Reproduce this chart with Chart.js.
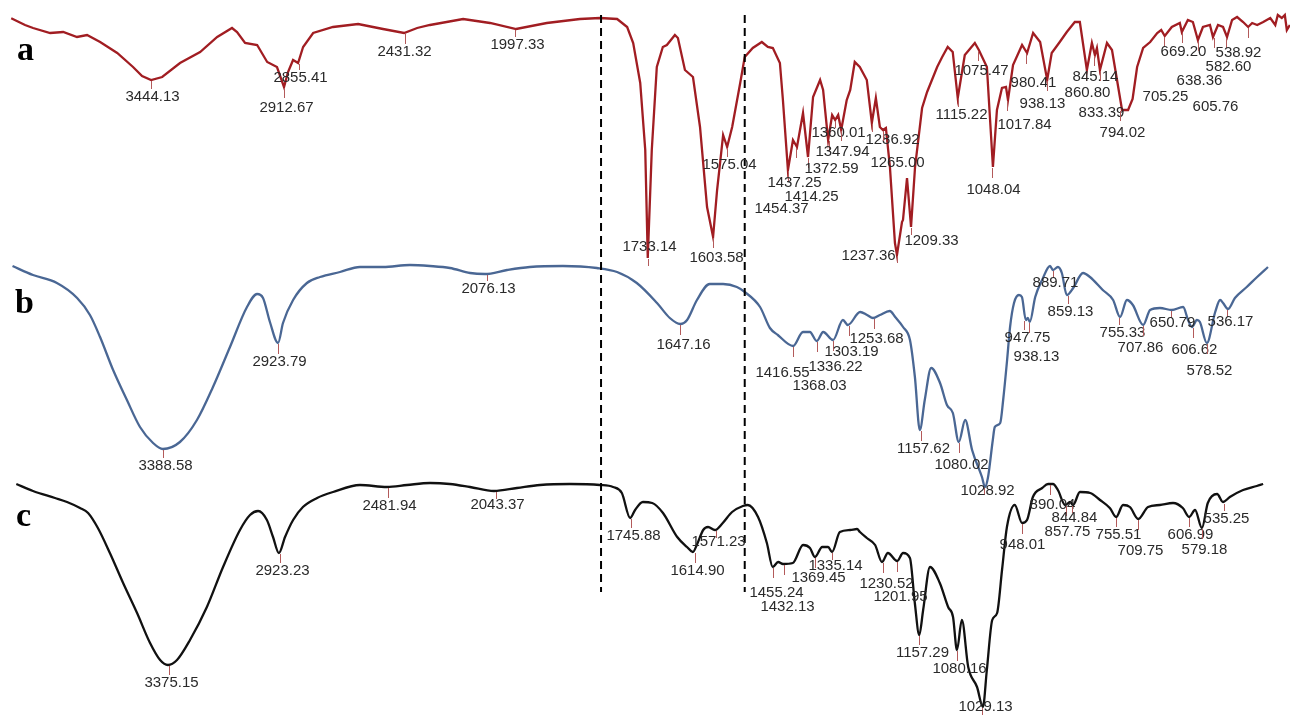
<!DOCTYPE html>
<html><head><meta charset="utf-8">
<script src="https://cdn.jsdelivr.net/npm/chart.js@4.4.1/dist/chart.umd.min.js"></script>
<style>html,body{margin:0;padding:0;background:#fff;overflow:hidden}#wrap{width:1290px;height:716px}</style>
</head><body><div id="wrap"><canvas id="cv" width="1290" height="716"></canvas></div>
<script>
// ---------- data (wavenumber cm-1, transmittance %T) ----------
const aSpectrum = [[4000,99.1],[3945,96.4],[3913,95.2],[3845,93.2],[3793,93.6],[3738,91.6],[3698,92.4],[3646,89.6],[3578,85.2],[3515,79.6],[3479,76.0],[3443,74.4],[3399,75.6],[3328,81.2],[3248,85.6],[3180,91.6],[3121,95.2],[3101,93.6],[3069,89.2],[3021,88.4],[2981,81.6],[2942,79.6],[2914,71.6],[2898,77.6],[2878,82.4],[2858,81.2],[2838,87.6],[2798,93.2],[2719,95.6],[2619,96.8],[2520,94.8],[2436,93.2],[2384,95.2],[2333,96.4],[2201,98.8],[2094,97.2],[1995,94.8],[1934,97.2],[1868,98.8],[1828,99.2],[1794,98.8],[1774,95.6],[1762,89.2],[1748,73.2],[1738,46.4],[1733,3.2],[1725,46.4],[1715,79.6],[1703,87.6],[1695,88.4],[1679,92.4],[1673,91.2],[1659,78.4],[1643,75.6],[1629,55.6],[1615,23.6],[1603,11.6],[1595,30.4],[1583,52.4],[1575,47.6],[1565,55.6],[1549,73.2],[1540,83.6],[1524,87.2],[1506,89.6],[1494,87.6],[1484,87.2],[1470,81.2],[1464,66.4],[1454,38.4],[1444,50.4],[1436,47.6],[1424,61.2],[1414,43.6],[1404,67.6],[1390,74.4],[1384,70.4],[1374,50.4],[1366,60.4],[1360,58.4],[1354,60.4],[1348,54.4],[1337,66.4],[1330,70.4],[1321,81.6],[1311,79.6],[1297,74.4],[1287,57.2],[1279,67.2],[1271,55.6],[1265,54.4],[1259,55.2],[1251,39.6],[1241,9.2],[1237,4.4],[1227,17.6],[1225,18.4],[1217,35.2],[1209,15.6],[1201,39.6],[1187,63.2],[1177,69.6],[1157,79.6],[1147,83.6],[1136,87.6],[1126,85.6],[1116,67.2],[1102,84.4],[1082,89.2],[1074,86.4],[1058,79.6],[1046,39.6],[1038,62.4],[1028,71.2],[1020,71.6],[1016,66.4],[1006,80.4],[988,88.4],[978,85.2],[966,93.2],[952,89.6],[938,74.4],[929,85.2],[913,89.6],[899,93.6],[883,97.6],[873,97.6],[859,78.4],[849,89.2],[843,84.4],[839,87.2],[833,78.4],[819,89.2],[809,86.4],[789,62.4],[777,62.4],[768,66.8],[759,79.6],[747,87.2],[733,89.6],[719,93.2],[711,94.4],[704,92.0],[690,95.6],[674,97.2],[670,93.6],[658,98.4],[648,97.6],[638,90.4],[628,95.6],[614,96.4],[608,91.6],[598,96.4],[588,95.6],[580,91.6],[570,98.4],[560,99.6],[548,97.6],[538,95.6],[530,97.2],[520,96.4],[508,97.6],[494,99.2],[484,96.4],[479,100.4],[471,99.2],[465,100.4],[461,94.4],[455,96.4]];
const aWavenumber = aSpectrum.map(p=>p[0]);
const aTransmittance = aSpectrum.map(p=>p[1]);

const bWavenumber = [4000,3917,3820,3738,3686,3645,3592,3536,3483,3430,3390,3321,3252,3187,3118,3049,3008,2984,2956,2923,2903,2862,2806,2753,2672,2591,2497,2388,2307,2226,2144,2084,1997,1951,1884,1815,1774,1734,1693,1667,1646,1632,1612,1586,1559,1531,1515,1484,1464,1448,1417,1397,1383,1369,1356,1336,1316,1306,1281,1267,1255,1241,1221,1210,1194,1180,1170,1160,1150,1137,1119,1105,1093,1081,1068,1054,1034,1028,1022,1012,1008,997,991,983,977,969,959,953,945,941,937,926,912,896,890,880,872,862,849,829,815,789,768,754,740,728,707,693,673,649,626,616,608,598,592,578,561,551,545,535,521,497,476,454];
const bTransmittance = [90.0,86.4,83.2,77.2,70.4,61.6,48.4,36.4,25.6,19.2,16.8,19.6,28.4,41.6,57.6,73.6,78.8,77.2,67.6,59.2,67.2,76.4,83.2,85.6,87.6,89.6,89.6,90.4,90.0,89.2,87.2,86.8,88.4,89.6,90.0,89.2,87.6,83.2,75.2,69.2,66.8,68.4,76.4,82.8,82.8,81.6,79.6,73.6,65.2,62.4,58.0,63.6,63.6,60.0,63.6,60.4,68.4,66.4,71.6,70.4,69.2,70.4,72.0,69.6,65.6,60.4,45.6,24.4,36.4,49.2,43.2,34.4,31.2,19.6,28.4,16.4,5.6,1.6,5.2,20.4,25.6,27.2,36.4,52.4,65.6,75.2,78.4,77.6,68.4,69.2,67.6,77.6,84.4,90.0,88.4,89.6,87.2,78.4,81.2,87.2,85.6,80.4,76.4,69.6,76.4,74.4,66.4,72.4,73.2,72.4,73.6,68.4,65.6,68.4,67.6,59.2,71.6,76.4,75.2,72.8,77.2,81.6,85.6,89.6];

const cWavenumber = [4000,3932,3842,3793,3740,3707,3667,3618,3564,3507,3454,3413,3381,3344,3291,3222,3156,3087,3046,3013,2977,2952,2928,2903,2870,2830,2772,2707,2597,2487,2405,2311,2230,2148,2050,1978,1931,1870,1809,1782,1764,1747,1737,1721,1702,1680,1651,1631,1619,1611,1598,1588,1574,1558,1539,1517,1507,1486,1468,1456,1445,1435,1415,1394,1380,1370,1355,1343,1335,1319,1298,1284,1278,1264,1247,1233,1221,1202,1190,1176,1166,1157,1149,1135,1115,1098,1088,1080,1070,1057,1039,1027,1019,1008,998,988,978,962,947,937,925,906,894,884,874,859,849,843,829,808,788,768,755,741,727,710,690,666,639,619,606,594,580,568,549,537,523,496,468,455];
const cTransmittance = [92.8,90.0,87.2,85.6,83.2,81.2,75.2,65.2,53.2,41.2,29.2,22.4,20.4,22.4,30.4,43.6,59.6,74.4,80.4,82.0,78.4,71.6,65.2,71.6,78.4,83.6,87.2,89.6,92.4,91.6,92.4,93.2,92.8,91.6,90.0,91.2,92.4,92.8,92.4,91.6,89.2,79.2,82.4,85.6,85.2,81.2,71.6,67.6,65.6,68.4,74.4,75.6,74.4,77.2,81.6,84.0,84.4,79.6,69.2,59.6,61.6,60.8,61.2,68.4,67.2,63.6,67.6,67.6,65.6,73.6,74.4,74.8,73.6,71.2,68.4,61.6,65.2,62.0,65.2,63.2,45.2,32.4,42.4,59.6,53.2,43.6,39.6,26.4,38.4,19.6,11.6,3.6,18.4,38.4,41.2,58.4,75.6,84.4,77.2,78.4,87.6,91.2,92.8,92.8,90.4,84.4,85.6,84.4,89.6,89.2,86.4,83.2,79.6,84.4,83.6,78.8,83.6,84.4,85.2,83.2,79.6,82.4,75.2,85.2,88.8,85.6,87.6,90.4,92.0,92.8];

// peak labels (wavenumber text) and the %T of the curve at each peak
const aPeaks = ["3444.13","2912.67","2855.41","2431.32","1997.33","1733.14","1603.58","1575.04","1454.37","1437.25","1414.25","1372.59","1360.01","1347.94","1286.92","1265.00","1237.36","1209.33","1115.22","1075.47","1048.04","1017.84","980.41","938.13","860.80","845.14","833.39","794.02","705.25","669.20","638.36","605.76","582.60","538.92"];
const aPeakT = [74.4,71.6,81.2,93.2,94.8,3.2,11.6,47.6,38.4,47.6,43.6,50.4,58.4,54.4,57.2,54.4,4.4,15.6,67.2,86.4,39.6,66.4,85.2,74.4,78.4,84.4,78.4,62.4,92.0,93.6,90.4,91.6,91.6,95.6];
const bPeaks = ["3388.58","2923.79","2076.13","1647.16","1416.55","1368.03","1336.22","1303.19","1253.68","1157.62","1080.02","1028.92","947.75","938.13","889.71","859.13","755.33","707.86","650.79","606.62","578.52","536.17"];
const bPeakT = [16.8,59.2,86.8,66.8,58.0,60.0,60.4,66.4,69.2,24.4,19.6,1.6,68.4,67.6,88.4,78.4,69.6,66.4,72.4,65.6,59.2,72.8];
const cPeaks = ["3375.15","2923.23","2481.94","2043.37","1745.88","1614.90","1571.23","1455.24","1432.13","1369.45","1335.14","1230.52","1201.95","1157.29","1080.16","1029.13","948.01","890.04","857.75","844.84","755.51","709.75","606.99","579.18","535.25"];
const cPeakT = [20.4,65.2,91.6,90.0,79.2,65.6,74.4,59.6,60.8,63.6,65.6,61.6,62.0,32.4,26.4,3.6,77.2,92.8,84.4,84.4,79.6,78.8,79.6,75.2,85.2];

// dashed reference lines (wavenumber, on the top spectrum's axis)
const markerWavenumbers = [1826, 1540];

// ---------- layout / style ----------
const aLabelOffset = [[1,17],[2,21],[1,15],[-1,19],[2,16],[1,-11],[3,21],[2,18],[-7,39],[-2,36],[3,40],[2,29],[3,13],[1,22],[20,17],[14,33],[-29,1],[20,14],[3,17],[3,21],[1,23],[17,25],[7,30],[-5,24],[1,23],[1,22],[1,43],[2,23],[1,61],[1,20],[1,41],[1,70],[2,30],[-10,26]];
const bLabelOffset = [[2,17],[1,19],[1,15],[3,21],[-11,27],[2,45],[2,27],[2,27],[2,21],[2,19],[2,23],[3,4],[3,18],[7,35],[2,13],[2,17],[3,16],[-3,23],[1,13],[1,23],[2,28],[3,13]];
const cLabelOffset = [[2,18],[2,18],[1,19],[1,14],[2,18],[2,19],[2,12],[3,26],[3,43],[3,21],[3,14],[3,22],[3,36],[3,18],[2,19],[3,0],[0,22],[2,21],[1,27],[2,13],[2,18],[2,32],[1,18],[2,22],[2,16]];

const OFFSET = {a:180, b:90, c:0};
const LETTERS = [["a",17,60],["b",15,313],["c",16,526]];
const MARKER_TOP = 280.4, MARKER_BOTTOM = 49.6;

// split wavenumber axis: above 2000 cm-1 compressed by half
function toU(w){ return w > 2000 ? 1000 + w/2 : w; }
function series(ws, ts, off){ return ws.map((w,i)=>({x:toU(w), y:ts[i]+off})); }

const SERIES = [
  {axis:'xa', peaks:aPeaks, peakT:aPeakT, layout:aLabelOffset, off:OFFSET.a},
  {axis:'xb', peaks:bPeaks, peakT:bPeakT, layout:bLabelOffset, off:OFFSET.b},
  {axis:'xc', peaks:cPeaks, peakT:cPeakT, layout:cLabelOffset, off:OFFSET.c}
];

const peakPlugin = {
  id:'peaks',
  afterDatasetsDraw(chart){
    const ctx = chart.ctx, ys = chart.scales.y;
    ctx.save();
    ctx.font = '15px "Liberation Sans", Arial, sans-serif';
    ctx.textAlign = 'center';
    ctx.textBaseline = 'middle';
    SERIES.forEach(s=>{
      const xs = chart.scales[s.axis];
      s.peaks.forEach((p,i)=>{
        const px = Math.round(xs.getPixelForValue(toU(parseFloat(p)))) + 0.5;
        const py = ys.getPixelForValue(s.peakT[i] + s.off);
        const dx = s.layout[i][0], dy = s.layout[i][1];
        const len = dy > 14 ? Math.min(10, dy - 9) : 7;
        ctx.strokeStyle = '#b35a5a';
        ctx.lineWidth = 1;
        ctx.beginPath(); ctx.moveTo(px, py + 1); ctx.lineTo(px, py + 1 + len); ctx.stroke();
        ctx.fillStyle = '#2a2a2a';
        ctx.fillText(p, px + dx, py + dy);
      });
    });
    ctx.font = 'bold 34px "Liberation Serif", "Times New Roman", serif';
    ctx.textAlign = 'left';
    ctx.textBaseline = 'alphabetic';
    ctx.fillStyle = '#000';
    LETTERS.forEach(([t,x,y])=>ctx.fillText(t,x,y));
    ctx.restore();
  }
};

const markerSets = markerWavenumbers.map(w=>({
  data:[{x:toU(w), y:MARKER_TOP},{x:toU(w), y:MARKER_BOTTOM}],
  xAxisID:'xa', yAxisID:'y', borderColor:'#000', borderWidth:2, borderDash:[8,5],
  pointRadius:0, fill:false, tension:0
}));

new Chart(document.getElementById('cv'), {
  type:'line',
  data:{datasets:[
    ...markerSets,
    {label:'a', data:series(aWavenumber,aTransmittance,OFFSET.a), xAxisID:'xa', yAxisID:'y',
      borderColor:'#a11d22', borderWidth:2.3, pointRadius:0, fill:false, tension:0},
    {label:'b', data:series(bWavenumber,bTransmittance,OFFSET.b), xAxisID:'xb', yAxisID:'y',
      borderColor:'#4a6794', borderWidth:2.3, pointRadius:0, fill:false, cubicInterpolationMode:'monotone'},
    {label:'c', data:series(cWavenumber,cTransmittance,OFFSET.c), xAxisID:'xc', yAxisID:'y',
      borderColor:'#111111', borderWidth:2.3, pointRadius:0, fill:false, cubicInterpolationMode:'monotone'}
  ]},
  options:{
    responsive:false, animation:false, devicePixelRatio:1,
    layout:{padding:0},
    plugins:{legend:{display:false}, tooltip:{enabled:false}},
    events:[],
    scales:{
      xa:{type:'linear', axis:'x', reverse:true, min:454.7, max:3022.3, display:false},
      xb:{type:'linear', axis:'x', reverse:true, min:409.3, max:3025.4, display:false},
      xc:{type:'linear', axis:'x', reverse:true, min:400.2, max:3033.3, display:false},
      y:{type:'linear', min:0, max:286.4, display:false}
    }
  },
  plugins:[peakPlugin]
});
</script></body></html>
